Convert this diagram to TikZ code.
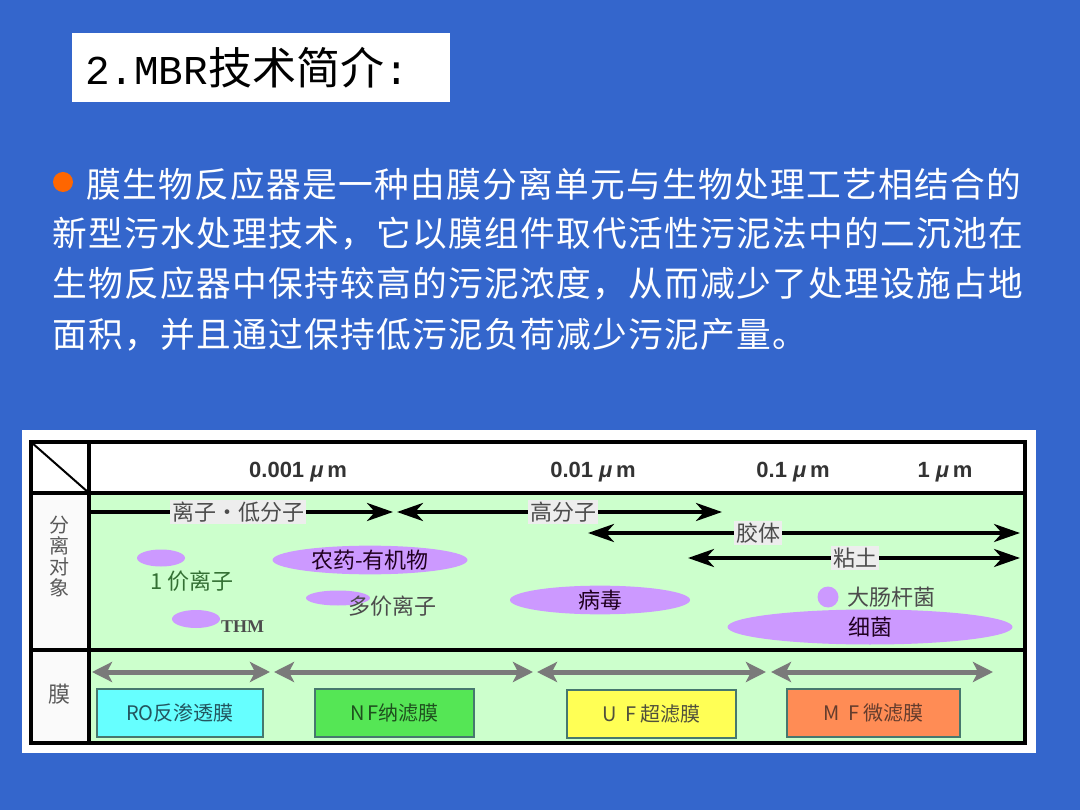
\documentclass[tikz,border=0pt]{standalone}
\usepackage{fontspec}
\setmainfont{Noto Sans CJK SC}
\newfontfamily\bodyfont[LetterSpace=3.8]{Noto Sans CJK SC}
\newfontfamily\arialfont{Liberation Sans}
\newfontfamily\timesfont{Liberation Serif}
\newfontfamily\courierfont{Liberation Mono}
\usetikzlibrary{positioning, arrows.meta, shapes.geometric}

\definecolor{slideblue}{RGB}{52,102,204}
\definecolor{sepgreen}{RGB}{204,255,204}
\definecolor{blobviolet}{RGB}{204,153,255}
\definecolor{bulletorange}{RGB}{255,102,0}
\definecolor{memgray}{RGB}{122,122,122}
\definecolor{rocyan}{RGB}{102,255,255}
\definecolor{nfgreen}{RGB}{85,230,85}
\definecolor{ufyellow}{RGB}{255,255,85}
\definecolor{mforange}{RGB}{255,140,85}
\definecolor{boxedge}{RGB}{70,120,110}
\definecolor{rotext}{RGB}{35,85,95}
\definecolor{nftext}{RGB}{30,80,30}
\definecolor{uftext}{RGB}{80,80,60}
\definecolor{mftext}{RGB}{100,60,45}

\tikzset{
    bodyline/.style={font=\bodyfont\fontsize{34.7}{40}\selectfont, text=white, inner sep=0pt, anchor=west},
    scalelabel/.style={font=\arialfont\bfseries\fontsize{22}{24}\selectfont, text=black!80},
    sidelabel/.style={font=\fontsize{20}{21}\selectfont, text=black!65, align=center},
    tag/.style={fill=gray!14, inner sep=2pt, font=\fontsize{22}{24}\selectfont, text=black!70},
    reach/.style={line width=4pt, black},
    tipR/.style={-{Stealth[length=26pt,width=18pt,inset=8pt]}},
    tipL/.style={{Stealth[length=26pt,width=18pt,inset=8pt]}-},
    blob/.style={ellipse, fill=blobviolet, inner sep=0pt},
    blobtext/.style={font=\fontsize{22}{24}\selectfont, text=black!75!violet},
    memrange/.style={line width=5pt, memgray, {Stealth[length=20pt,width=20pt,inset=5pt]}-{Stealth[length=20pt,width=20pt,inset=5pt]}},
    membox/.style={draw=boxedge, line width=1.2pt, minimum height=48pt, inner sep=0pt, font=\fontsize{20}{22}\selectfont}
}

\begin{document}
\begin{tikzpicture}[x=1pt, y=-1pt]
    \useasboundingbox (0,0) rectangle (1080,810);
    \fill[slideblue] (0,0) rectangle (1080,810);

    % Title
    \node[fill=white, minimum width=378pt, minimum height=69pt, inner sep=0pt] (titlebox) at (261,67.5) {};
    \node[anchor=west, inner sep=0pt] (title) at ([xshift=13pt]titlebox.west)
        {{\courierfont\fontsize{41}{44}\selectfont 2.MBR}{\fontsize{44}{46}\selectfont 技术简介}{\courierfont\fontsize{41}{44}\selectfont :}};

    % Bullet text
    \node[circle, fill=bulletorange, minimum size=20pt, inner sep=0pt] (dot) at (63,182) {};
    \node[bodyline] (line1) at (86,184) {膜生物反应器是一种由膜分离单元与生物处理工艺相结合的};
    \node[bodyline] (line2) at (52,233.5) {新型污水处理技术，它以膜组件取代活性污泥法中的二沉池在};
    \node[bodyline] (line3) at (52,284) {生物反应器中保持较高的污泥浓度，从而减少了处理设施占地};
    \node[bodyline] (line4) at (52,335) {面积，并且通过保持低污泥负荷减少污泥产量。};

    % Chart frame
    \fill[white] (22,430) rectangle (1036,753);
    \fill[sepgreen] (89,493) rectangle (1025,743);
    \fill[gray!4] (31,493) rectangle (89,743);
    \draw[line width=4pt] (31,442) rectangle (1025,743);
    \draw[line width=4pt] (89,442) -- (89,743);
    \draw[line width=4pt] (31,493) -- (1025,493);
    \draw[line width=4pt] (31,650) -- (1025,650);
    \coordinate (corner) at (31,442);
    \coordinate (cross) at (89,493);
    \draw[line width=2pt] (corner) -- (cross);

    % Size scale
    \foreach \x/\lbl [count=\i] in {298/0.001, 593/0.01, 793/0.1, 945/1} {
        \node[scalelabel] (size\i) at (\x,472) {\lbl\ \textit{μ}\,m};
    }

    % Row labels
    \node[sidelabel] (objects) at (59,556) {分\\离\\对\\象};
    \node[sidelabel, font=\fontsize{22}{24}\selectfont] (film) at (59,694) {膜};

    % Ranges
    \coordinate (ionL) at (91,512);
    \node[tag] (ion) at (238,512) {离子・低分子};
    \coordinate (ionR) at (393,512);
    \draw[reach] (ionL) -- (ion);
    \draw[reach, tipR] (ion) -- (ionR);

    \coordinate (macroL) at (397,512);
    \node[tag] (macro) at (563,512) {高分子};
    \coordinate (macroR) at (722,512);
    \draw[reach, tipL] (macroL) -- (macro);
    \draw[reach, tipR] (macro) -- (macroR);

    \coordinate (colloidL) at (588,533);
    \node[tag] (colloid) at (758,533) {胶体};
    \coordinate (colloidR) at (1020,533);
    \draw[reach, tipL] (colloidL) -- (colloid);
    \draw[reach, tipR] (colloid) -- (colloidR);

    \coordinate (clayL) at (688,558);
    \node[tag] (clay) at (855,558) {粘土};
    \coordinate (clayR) at (1020,558);
    \draw[reach, tipL] (clayL) -- (clay);
    \draw[reach, tipR] (clay) -- (clayR);

    % Separated objects
    \node[blob, minimum width=48pt, minimum height=17pt] (mono) at (161,558) {};
    \node[blobtext, text=black!60!green!60!gray] (monotext) at (192,581) {1 价离子};
    \node[blob, minimum width=48pt, minimum height=18pt] (thm) at (196,619) {};
    \node[anchor=west, inner sep=0pt, font=\timesfont\bfseries\fontsize{18}{20}\selectfont, text=black!70] (thmtext) at (221,627) {THM};
    \node[blob, blobtext, minimum width=195pt, minimum height=22pt] (pest) at (370,560) {农药-有机物};
    \node[blob, minimum width=64pt, minimum height=15pt] (multi) at (338,598) {};
    \node[blobtext, text=black!70] (multitext) at (392,606) {多价离子};
    \node[blob, blobtext, minimum width=180pt, minimum height=24pt] (virus) at (600,600) {病毒};
    \node[circle, fill=blobviolet, minimum size=21pt, inner sep=0pt] (ecoli) at (828,597) {};
    \node[blobtext, anchor=west, inner sep=0pt, text=black!70] (ecolitext) at (847,597) {大肠杆菌};
    \node[blob, blobtext, minimum width=285pt, minimum height=35pt] (bact) at (870,627) {细菌};

    % Membranes
    \coordinate (m0) at (92,672);
    \coordinate (m1) at (270,672);
    \coordinate (m2) at (274,672);
    \coordinate (m3) at (533,672);
    \coordinate (m4) at (537,672);
    \coordinate (m5) at (766,672);
    \coordinate (m6) at (771,672);
    \coordinate (m7) at (993,672);
    \draw[memrange] (m0) -- (m1);
    \draw[memrange] (m2) -- (m3);
    \draw[memrange] (m4) -- (m5);
    \draw[memrange] (m6) -- (m7);

    \node[membox, fill=rocyan, minimum width=166pt, text=rotext] (ro) at (180,713) {RO反渗透膜};
    \node[membox, fill=nfgreen, minimum width=159pt, text=nftext] (nf) at (394.5,713) {N\,F纳滤膜};
    \node[membox, fill=ufyellow, minimum width=169pt, text=uftext] (uf) at (651.5,714) {U\ \ F\ 超滤膜};
    \node[membox, fill=mforange, minimum width=173pt, text=mftext] (mf) at (873.5,713) {M\ \ F\ 微滤膜};
\end{tikzpicture}
\end{document}
